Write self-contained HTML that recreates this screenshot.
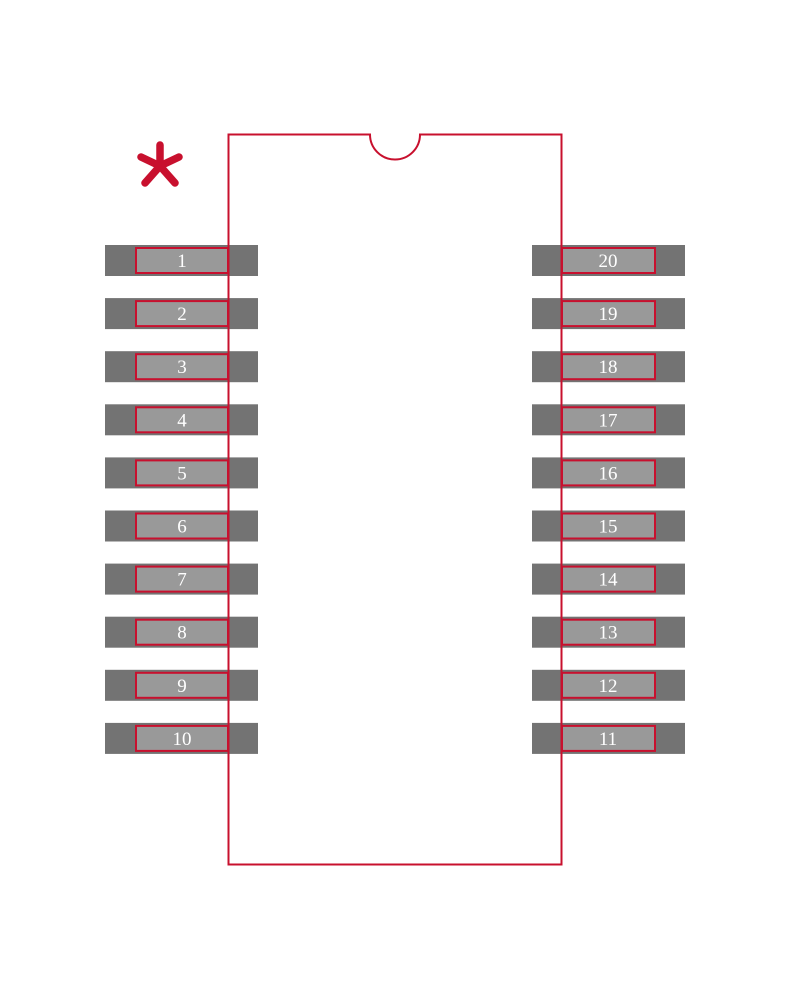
<!DOCTYPE html>
<html><head><style>body{margin:0;background:#fff}</style></head><body>
<svg width="790" height="1000" xmlns="http://www.w3.org/2000/svg" font-family="Liberation Serif, serif">
<g stroke="#c8102e" stroke-width="7.5" stroke-linecap="round">
<line x1="160" y1="166" x2="160" y2="145"/>
<line x1="160" y1="166" x2="141" y2="157"/>
<line x1="160" y1="166" x2="179" y2="157"/>
<line x1="160" y1="166" x2="145" y2="183"/>
<line x1="160" y1="166" x2="175" y2="183"/>
</g>
<g fill="#737373">
<rect x="105" y="245" width="153" height="31"/><rect x="532" y="245" width="153" height="31"/>
<rect x="105" y="298.1" width="153" height="31"/><rect x="532" y="298.1" width="153" height="31"/>
<rect x="105" y="351.2" width="153" height="31"/><rect x="532" y="351.2" width="153" height="31"/>
<rect x="105" y="404.3" width="153" height="31"/><rect x="532" y="404.3" width="153" height="31"/>
<rect x="105" y="457.4" width="153" height="31"/><rect x="532" y="457.4" width="153" height="31"/>
<rect x="105" y="510.5" width="153" height="31"/><rect x="532" y="510.5" width="153" height="31"/>
<rect x="105" y="563.6" width="153" height="31"/><rect x="532" y="563.6" width="153" height="31"/>
<rect x="105" y="616.7" width="153" height="31"/><rect x="532" y="616.7" width="153" height="31"/>
<rect x="105" y="669.8" width="153" height="31"/><rect x="532" y="669.8" width="153" height="31"/>
<rect x="105" y="722.9" width="153" height="31"/><rect x="532" y="722.9" width="153" height="31"/>
</g>
<g fill="#999" stroke="#c8102e" stroke-width="2">
<rect x="136" y="248" width="92" height="25"/><rect x="562" y="248" width="93" height="25"/>
<rect x="136" y="301.1" width="92" height="25"/><rect x="562" y="301.1" width="93" height="25"/>
<rect x="136" y="354.2" width="92" height="25"/><rect x="562" y="354.2" width="93" height="25"/>
<rect x="136" y="407.3" width="92" height="25"/><rect x="562" y="407.3" width="93" height="25"/>
<rect x="136" y="460.4" width="92" height="25"/><rect x="562" y="460.4" width="93" height="25"/>
<rect x="136" y="513.5" width="92" height="25"/><rect x="562" y="513.5" width="93" height="25"/>
<rect x="136" y="566.6" width="92" height="25"/><rect x="562" y="566.6" width="93" height="25"/>
<rect x="136" y="619.7" width="92" height="25"/><rect x="562" y="619.7" width="93" height="25"/>
<rect x="136" y="672.8" width="92" height="25"/><rect x="562" y="672.8" width="93" height="25"/>
<rect x="136" y="725.9" width="92" height="25"/><rect x="562" y="725.9" width="93" height="25"/>
</g>
<g fill="#fff" font-size="19" text-anchor="middle">
<text x="182" y="267">1</text><text x="608" y="267">20</text>
<text x="182" y="320.1">2</text><text x="608" y="320.1">19</text>
<text x="182" y="373.2">3</text><text x="608" y="373.2">18</text>
<text x="182" y="426.3">4</text><text x="608" y="426.3">17</text>
<text x="182" y="479.4">5</text><text x="608" y="479.4">16</text>
<text x="182" y="532.5">6</text><text x="608" y="532.5">15</text>
<text x="182" y="585.6">7</text><text x="608" y="585.6">14</text>
<text x="182" y="638.7">8</text><text x="608" y="638.7">13</text>
<text x="182" y="691.8">9</text><text x="608" y="691.8">12</text>
<text x="182" y="744.9">10</text><text x="608" y="744.9">11</text>
</g>
<path d="M228.5 134.5 H370 A25 25 0 0 0 420 134.5 H561.5 V864.5 H228.5 Z" fill="none" stroke="#c8102e" stroke-width="2"/>
</svg>
</body></html>
